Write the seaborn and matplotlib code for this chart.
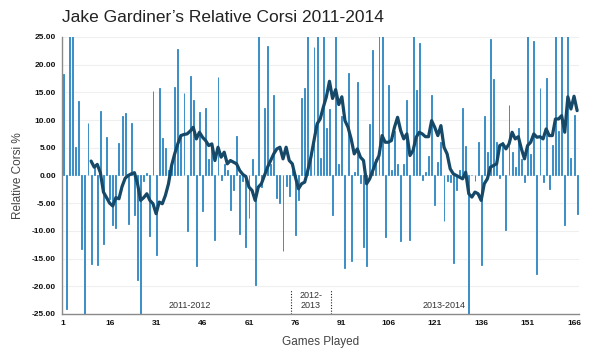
import numpy as np
import pandas as pd
import seaborn as sns
import matplotlib.pyplot as plt
from matplotlib.ticker import FormatStrFormatter

# relative corsi per game (bars); values above 25 / below -25 run off the chart
games = list(range(1, 168))
corsi = [
    18.4, -24.1, 30, 30, 5.1, 13.4, -13.3, -30, 9.5, -16.0,
    1.5, -16.1, 11.7, -12.3, 6.9, -4.2, -9.0, -9.5, 5.9, 10.7,
    11.3, -8.7, 9.5, -7.2, -18.9, -30, -1.0, 0.5, -11.0, 15.2,
    -14.3, 15.8, 6.7, 4.9, 1.0, 2.0, 16.0, 22.8, 7.5, 14.8,
    -10.1, 17.9, 13.7, -16.4, 11.4, -6.5, 12.2, 3.0, 5.9, -11.6,
    17.8, -0.8, 2.0, 1.0, -6.2, -2.6, 7.1, -10.6, -1.0, -13.0,
    -7.7, 3.0, -19.7, 30, -2.0, 12.2, 23.3, 2.0, 14.5, -4.1,
    -4.9, -13.6, -1.9, -3.7, 2.0, -10.8, -4.4, 14.0, 15.7, 30,
    3.0, 23.2, 30, 3.1, 30, 8.5, 12.0, -7.1, 30, 2.0,
    10.7, -16.7, 18.5, -15.4, 0.7, 16.8, -1.3, -13.0, -16.4, 9.2,
    22.6, 3.0, 30, 30, -11.1, 16.3, 0.9, 8.0, 2.1, -11.9,
    2.0, 13.7, -11.6, 30, 15.5, 24.0, -0.9, 0.6, 3.6, 14.5,
    -5.4, 2.5, 6.0, -8.3, -1.0, -1.2, -15.8, -2.6, 1.0, 12.2,
    5.4, -30, 0.1, -1.0, 6.1, -16.1, 10.7, 4.3, 24.7, 17.5,
    6.1, -0.5, 6.1, -9.9, 12.8, 4.2, 1.5, 8.6, 3.0, -1.2,
    30, 3.9, 24.3, -17.8, 15.7, -1.2, 17.6, -2.4, 5.5, 30,
    8.0, 30, -9.0, 30, 3.1, 11.0, -6.9,
]

# 10 game moving average (line), from game 10 on
avg_games = list(range(10, 168))
avg = [
    2.6, 1.5, 2.0, 0.5, -3.0, -4.0, -5.0, -5.5, -4.0, -4.2,
    -2.0, -0.5, 0.0, 0.3, 0.5, -1.5, -4.5, -4.0, -3.3, -4.5,
    -5.1, -6.9, -4.8, -5.1, -3.6, -1.5, 1.8, 3.9, 5.7, 7.2,
    7.4, 7.5, 8.0, 8.7, 6.6, 7.8, 6.9, 6.3, 5.4, 5.7,
    2.7, 5.1, 3.3, 4.2, 2.1, 2.7, 2.4, 2.1, 0.9, 0.2,
    -0.2, -2.1, -2.7, -4.5, -2.1, -1.5, 0.0, 1.5, 2.7, 3.9,
    4.8, 5.1, 3.0, 5.1, 2.7, 2.1, -0.3, -2.4, -1.5, -1.2,
    0.9, 3.3, 6.3, 9.3, 10.2, 12.3, 14.2, 17.0, 13.9, 15.5,
    12.8, 14.2, 9.9, 8.7, 6.6, 3.9, 4.8, 3.3, 2.7, -1.5,
    -0.6, 0.9, 2.4, 3.6, 7.2, 6.0, 6.0, 6.3, 8.7, 10.5,
    8.1, 6.6, 7.5, 3.6, 4.5, 6.9, 7.8, 7.5, 7.0, 7.0,
    9.9, 8.7, 7.2, 9.0, 5.1, 3.9, 1.2, 0.3, 0.0, -0.3,
    -0.6, 0.6, -3.3, -3.9, -3.0, -3.3, -4.5, -1.5, -0.6, 1.5,
    1.8, 2.1, 5.4, 5.7, 4.8, 5.7, 7.8, 6.6, 7.0, 4.8,
    3.0, 5.4, 6.0, 7.5, 6.9, 7.0, 6.6, 8.4, 7.2, 7.2,
    10.2, 10.2, 10.8, 7.8, 14.2, 12.0, 14.3, 11.7,
]

season_breaks = [74.5, 87.5]
season_labels = ["2011-2012", "2012-\n2013", "2013-2014"]
season_label_x = [42, 81, 124]
xticks = list(range(1, 167, 15))

df_bars = pd.DataFrame({"game": games, "corsi": corsi})
df_avg = pd.DataFrame({"game": avg_games, "avg": avg})

sns.set_style("white")
plt.rcParams["font.family"] = ["Liberation Sans", "DejaVu Sans"]

fig = plt.figure(figsize=(6, 3.52), dpi=100)
ax = fig.add_axes([0.1028, 0.108, 0.8627, 0.787])

ax.yaxis.grid(True, color="#efefef", linewidth=0.8)
ax.set_axisbelow(True)

bar_color = "#3d8fc6"
sns.barplot(data=df_bars, x="game", y="corsi", native_scale=True, width=0.3,
            color=bar_color, saturation=1, edgecolor=bar_color, linewidth=0.7,
            ax=ax)
sns.lineplot(data=df_avg, x="game", y="avg", color="#164868", linewidth=2.3,
             ax=ax, zorder=3)

for b in season_breaks:
    ax.plot([b, b], [-25, -20.5], color="#222222", linestyle=(0, (1, 1.5)), linewidth=0.8)
ax.text(season_label_x[0], -24.3, season_labels[0], ha="center", va="bottom",
        fontsize=6.5, color="#333333")
ax.text(season_label_x[1], -24.3, season_labels[1], ha="center", va="bottom",
        fontsize=6.5, color="#333333", linespacing=1.1)
ax.text(season_label_x[2], -24.3, season_labels[2], ha="center", va="bottom",
        fontsize=6.5, color="#333333")

ax.set_xlim(0.5, 167.7)
ax.set_ylim(-25, 25)
ax.set_xticks(xticks)
ax.set_yticks(np.arange(-25, 26, 5))
ax.yaxis.set_major_formatter(FormatStrFormatter("%.2f"))
ax.tick_params(axis="both", length=0, labelsize=6, colors="#111111", pad=4)
for lab in ax.get_xticklabels() + ax.get_yticklabels():
    lab.set_fontweight("bold")

for s in ["top", "right"]:
    ax.spines[s].set_visible(False)
for s in ["left", "bottom"]:
    ax.spines[s].set_color("#8a8a8a")
    ax.spines[s].set_linewidth(1.0)

ax.set_xlabel("Games Played", fontsize=8.5, color="#444444", labelpad=7)
ax.set_ylabel("Relative Corsi %", fontsize=8.5, color="#444444", labelpad=6)

fig.text(0.103, 0.95, "Jake Gardiner\u2019s Relative Corsi 2011-2014",
         fontsize=12.5, color="#222222", ha="left", va="center")

fig.savefig("out.png", dpi=100)
